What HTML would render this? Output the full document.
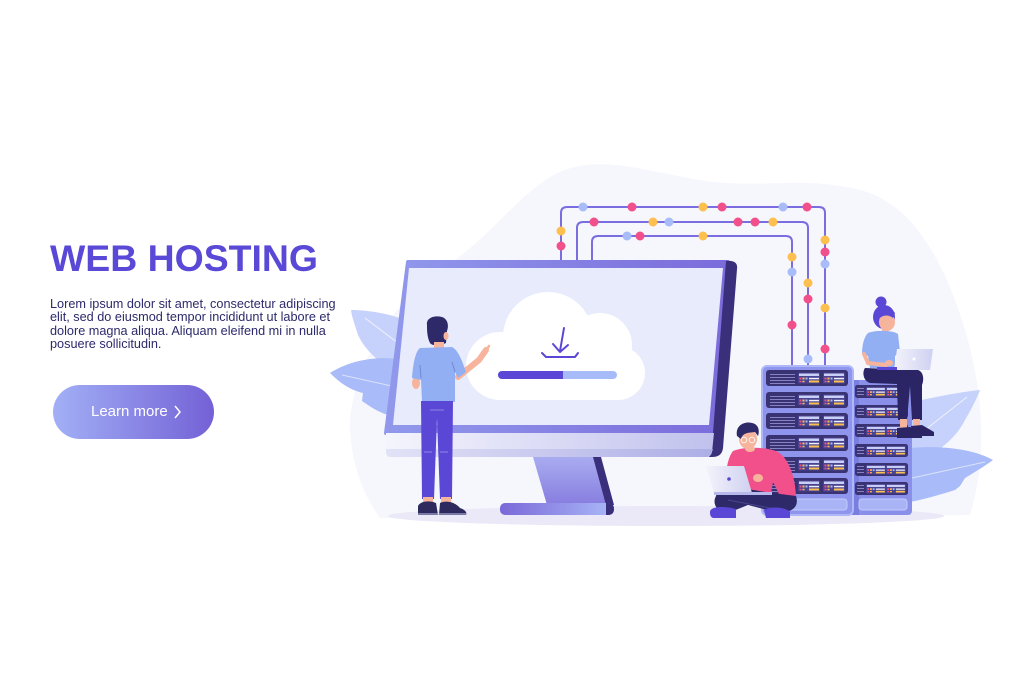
<!DOCTYPE html>
<html><head><meta charset="utf-8">
<style>
html,body{margin:0;padding:0;background:#fff;}
body{width:1024px;height:682px;position:relative;overflow:hidden;font-family:"Liberation Sans",Arial,sans-serif;}
svg{position:absolute;left:0;top:0;}
.title{position:absolute;left:50px;top:240px;font-size:37.4px;line-height:37.4px;font-weight:bold;color:#5a48d6;white-space:nowrap;}
.para{position:absolute;left:50px;top:298px;font-size:12.7px;line-height:13.4px;color:#2c2a6b;white-space:nowrap;}
.btn{position:absolute;left:53px;top:385px;width:161px;height:54px;border-radius:27px;background:linear-gradient(90deg,#a2b0f6,#7361d6);}
.btn span{position:absolute;left:38px;top:19px;font-size:15px;line-height:15px;color:#fff;white-space:nowrap;}
.btn svg{position:absolute;left:120px;top:19px;}
</style></head><body>
<svg width="1024" height="682" viewBox="0 0 1024 682">
<defs>
 <linearGradient id="gFrame" x1="0" x2="1"><stop offset="0" stop-color="#9199ec"/><stop offset="1" stop-color="#7b6bdb"/></linearGradient>
 <linearGradient id="gChin" x1="0" x2="1"><stop offset="0" stop-color="#f5f5fd"/><stop offset="1" stop-color="#c0c1ed"/></linearGradient>
 <linearGradient id="gChin2" x1="0" x2="1"><stop offset="0" stop-color="#e2e2f7"/><stop offset="1" stop-color="#adaee5"/></linearGradient>
 <linearGradient id="gNeck" x1="0" y1="0" x2="0" y2="1"><stop offset="0" stop-color="#a9acf0"/><stop offset="1" stop-color="#877ddf"/></linearGradient>
 <linearGradient id="gBase" x1="0" x2="1"><stop offset="0" stop-color="#7a68d8"/><stop offset="1" stop-color="#a9b8f7"/></linearGradient>
 <linearGradient id="gLap" x1="0" x2="1"><stop offset="0" stop-color="#f3f3fb"/><stop offset="1" stop-color="#cfd1f1"/></linearGradient>
 <g id="pn">
  <rect width="22" height="11" rx="1" fill="#4a4391"/>
  <rect x="1" y="1" width="20" height="2.5" fill="#c9d0f8"/>
  <rect x="1.5" y="5" width="2" height="2" fill="#f2508a"/>
  <rect x="4.5" y="5" width="2" height="2" fill="#fdc04f"/>
  <rect x="7.5" y="5" width="2" height="2" fill="#a7bcf8"/>
  <rect x="11" y="5.3" width="10" height="1.5" fill="#eef0fc"/>
  <rect x="1.5" y="8.3" width="2" height="1.5" fill="#f2508a"/>
  <rect x="4.5" y="8.3" width="2" height="1.5" fill="#fdc04f"/>
  <rect x="11" y="8" width="10" height="2" fill="#fdc04f"/>
 </g>
 <g id="u1">
  <rect width="82" height="16" rx="3" fill="#3a3373"/>
  <path d="M4 4.5H29M4 7.5H29M4 10.5H29M4 13.5H29" stroke="#8583c4" stroke-width="1.1"/>
  <use href="#pn" x="32" y="2.5"/>
  <use href="#pn" x="57" y="2.5"/>
 </g>
 <g id="u2">
  <rect width="53" height="13" rx="2.5" fill="#3a3373"/>
  <path d="M2 3.5H9M2 6.5H9M2 9.5H9" stroke="#8583c4" stroke-width="1"/>
  <use href="#pn" transform="translate(11,2) scale(0.9,0.85)"/>
  <use href="#pn" transform="translate(31,2) scale(0.9,0.85)"/>
 </g>
</defs>

<!-- background blob -->
<path d="M350,430 C348,380 390,300 440,270 C490,240 520,190 560,172 C600,155 640,170 700,180 C760,190 800,175 860,190 C920,205 950,280 965,330 C980,380 990,450 970,515 L380,518 C360,490 352,460 350,430 Z" fill="#f6f6fd"/>

<!-- left leaves -->
<path d="M351,310 C370,310 395,315 404,320 L400,372 C380,365 365,350 358,335 C355,325 352,318 351,310 Z" fill="#c6d2fb"/>
<line x1="365" y1="318" x2="398" y2="343" stroke="#eef2fe" stroke-width="1"/>
<path d="M330,373 C350,360 380,355 402,360 L398,418 C385,415 375,410 368,405 L362,401 L363,393 C350,390 340,383 330,373 Z" fill="#a9bbf8"/>
<line x1="342" y1="375" x2="396" y2="387" stroke="#dbe3fd" stroke-width="1"/>

<!-- right leaves -->
<path d="M980,390 C960,392 930,398 912,402 L910,465 C935,455 955,440 965,420 C972,408 977,398 980,390 Z" fill="#c6d2fb"/>
<line x1="925" y1="430" x2="967" y2="397" stroke="#eef2fe" stroke-width="1"/>
<path d="M993,460 C975,450 945,445 910,448 L910,502 C930,498 945,493 955,490 L960,486 L965,478 C975,472 985,466 993,460 Z" fill="#a9bbf8"/>
<line x1="912" y1="478" x2="985" y2="462" stroke="#dbe3fd" stroke-width="1"/>

<!-- floor -->
<ellipse cx="666" cy="516" rx="278" ry="10" fill="#ebe8f8"/>

<!-- wires -->
<g fill="none" stroke="#7a6de0" stroke-width="2">
 <path d="M561,262 L561,213 Q561,207 567,207 L819,207 Q825,207 825,213 L825,368"/>
 <path d="M577,262 L577,228 Q577,222 583,222 L802,222 Q808,222 808,228 L808,368"/>
 <path d="M592,262 L592,242 Q592,236 598,236 L786,236 Q792,236 792,242 L792,368"/>
</g>
<g>
 <circle cx="583" cy="207" r="4.5" fill="#a7bcf8"/>
 <circle cx="632" cy="207" r="4.5" fill="#f2508a"/>
 <circle cx="703" cy="207" r="4.5" fill="#fdc04f"/>
 <circle cx="722" cy="207" r="4.5" fill="#f2508a"/>
 <circle cx="783" cy="207" r="4.5" fill="#a7bcf8"/>
 <circle cx="807" cy="207" r="4.5" fill="#f2508a"/>
 <circle cx="561" cy="231" r="4.5" fill="#fdc04f"/>
 <circle cx="561" cy="246" r="4.5" fill="#f2508a"/>
 <circle cx="825" cy="240" r="4.5" fill="#fdc04f"/>
 <circle cx="825" cy="252" r="4.5" fill="#f2508a"/>
 <circle cx="825" cy="264" r="4.5" fill="#a7bcf8"/>
 <circle cx="825" cy="308" r="4.5" fill="#fdc04f"/>
 <circle cx="825" cy="349" r="4.5" fill="#f2508a"/>
 <circle cx="594" cy="222" r="4.5" fill="#f2508a"/>
 <circle cx="653" cy="222" r="4.5" fill="#fdc04f"/>
 <circle cx="669" cy="222" r="4.5" fill="#a7bcf8"/>
 <circle cx="738" cy="222" r="4.5" fill="#f2508a"/>
 <circle cx="755" cy="222" r="4.5" fill="#f2508a"/>
 <circle cx="773" cy="222" r="4.5" fill="#fdc04f"/>
 <circle cx="808" cy="283" r="4.5" fill="#fdc04f"/>
 <circle cx="808" cy="299" r="4.5" fill="#f2508a"/>
 <circle cx="808" cy="359" r="4.5" fill="#a7bcf8"/>
 <circle cx="627" cy="236" r="4.5" fill="#a7bcf8"/>
 <circle cx="640" cy="236" r="4.5" fill="#f2508a"/>
 <circle cx="703" cy="236" r="4.5" fill="#fdc04f"/>
 <circle cx="792" cy="257" r="4.5" fill="#fdc04f"/>
 <circle cx="792" cy="272" r="4.5" fill="#a7bcf8"/>
 <circle cx="792" cy="325" r="4.5" fill="#f2508a"/>
</g>

<!-- monitor stand -->
<polygon points="533,457 596,457 610,505 547,505" fill="url(#gNeck)"/>
<polygon points="593,457 601,457 614,505 606,505" fill="#3a2f7a"/>
<rect x="500" y="503" width="113" height="12" rx="5" fill="url(#gBase)"/>
<path d="M606,503 L608,503 Q614,503 614,509 L614,509 Q614,515 608,515 L606,515 Z" fill="#3a2f7a"/>

<!-- monitor -->
<path d="M408,262 L728,262 L712,433 L386,433 Z" fill="url(#gFrame)" stroke="url(#gFrame)" stroke-width="4" stroke-linejoin="round"/>
<path d="M726,261 L731,261 Q738,262 737,269 L723,448 Q722,457 712,457 L709,457 L713,433 Z" fill="#3a2f7a"/>
<polygon points="409,268 723,268 709,425 393,425" fill="#e7ebfc"/>
<path d="M386,433 L714,433 L712,452 Q711,457 706,457 L391,457 Q386,457 386,452 Z" fill="url(#gChin)"/>
<path d="M386,449 L713,449 L712,452 Q711,457 706,457 L391,457 Q386,457 386,452 Z" fill="url(#gChin2)"/>

<!-- cloud -->
<g fill="#ffffff">
 <circle cx="500" cy="366" r="34"/>
 <circle cx="548" cy="337" r="45"/>
 <circle cx="600" cy="345" r="32"/>
 <circle cx="618" cy="373" r="27"/>
 <rect x="500" y="360" width="118" height="40"/>
</g>
<rect x="498" y="371" width="119" height="8" rx="4" fill="#a6bbf8"/>
<path d="M502,371 L563,371 L563,379 L502,379 A4,4 0 0 1 502,371 Z" fill="#5b47d6"/>
<g fill="none" stroke="#5b47d6" stroke-width="2" stroke-linecap="round" stroke-linejoin="round">
 <line x1="564" y1="328" x2="560" y2="351"/>
 <polyline points="553,344 560,352 568,345"/>
 <polyline points="542,353 546,357 575,357 578,353"/>
</g>

<!-- racks -->
<rect x="852" y="380" width="60" height="135" rx="4" fill="#8a8fea"/>
<rect x="852" y="380" width="7" height="135" fill="#7a7ede"/>
<use href="#u2" x="855" y="385"/>
<use href="#u2" x="855" y="405"/>
<use href="#u2" x="855" y="424"/>
<use href="#u2" x="855" y="444"/>
<use href="#u2" x="855" y="463"/>
<use href="#u2" x="855" y="482"/>
<rect x="859" y="499" width="48" height="11" rx="3" fill="#a9b4f6" stroke="#c3cbfa" stroke-width="1"/>

<rect x="762" y="366" width="91" height="149" rx="5" fill="#8f94ec" stroke="#aeb8f8" stroke-width="2"/>
<use href="#u1" x="766" y="370"/>
<use href="#u1" x="766" y="392"/>
<use href="#u1" x="766" y="413"/>
<use href="#u1" x="766" y="435"/>
<use href="#u1" x="766" y="457"/>
<use href="#u1" x="766" y="478"/>
<rect x="769" y="499" width="78" height="11" rx="3" fill="#a9b4f6" stroke="#c3cbfa" stroke-width="1"/>

<!-- sitting man -->
<path d="M733,451 C745,446 768,447 778,452 C788,458 795,475 796,496 L781,498 L773,482 L770,498 L728,498 C724,480 726,460 733,451 Z" fill="#f2508a"/>
<ellipse cx="750" cy="449" rx="5" ry="3" fill="#f7b49c"/>
<ellipse cx="748" cy="439" rx="9" ry="10" fill="#f7b49c"/>
<path d="M737,436 C735,425 745,421 752,423 C758,424 760,430 758,436 L755,432 C749,433 743,432 741,439 Z" fill="#2e2a6a"/>
<circle cx="744" cy="440" r="2.8" fill="none" stroke="#ffffff" stroke-width="0.8"/>
<circle cx="752" cy="440" r="2.8" fill="none" stroke="#ffffff" stroke-width="0.8"/>
<path d="M716,496 C718,486 740,487 765,492 L796,496 C800,508 790,514 775,512 L748,505 L728,513 C716,512 712,503 716,496 Z" fill="#2e2a6a"/>
<path d="M728,500 L780,510" stroke="#4a4590" stroke-width="1"/>
<polygon points="706,466 744,466 752,493 714,493" fill="url(#gLap)"/>
<circle cx="729" cy="479" r="1.8" fill="#5b47d6"/>
<rect x="714" y="492" width="58" height="3" fill="#b7b9ea"/>
<ellipse cx="758" cy="478" rx="5" ry="4" fill="#f7b49c"/>
<path d="M710,512 C710,506 725,506 736,509 L736,518 L713,518 C710,517 710,514 710,512 Z" fill="#5b47d6"/>
<path d="M764,510 C770,506 786,507 790,512 L790,518 L766,518 Z" fill="#5b47d6"/>

<!-- woman -->
<circle cx="881" cy="302" r="5.5" fill="#5b47d6"/>
<ellipse cx="884" cy="317" rx="11" ry="12" fill="#5b47d6"/>
<ellipse cx="887" cy="322" rx="8" ry="9" fill="#f7b49c"/>
<path d="M876,316 C878,308 890,306 895,313 L893,318 C888,314 882,315 878,320 Z" fill="#5b47d6"/>
<rect x="882" y="328" width="6" height="7" fill="#f7b49c"/>
<path d="M868,333 C875,330 893,330 898,334 L900,352 L895,356 L895,368 L870,368 L868,356 L862,354 C862,345 864,337 868,333 Z" fill="#93aff3"/>
<path d="M864,354 L868,363 L886,365" fill="none" stroke="#f7b49c" stroke-width="4" stroke-linecap="round"/>
<path d="M865,368 L918,370 C924,372 924,380 922,385 L922,420 L912,420 L910,386 L907,420 L898,420 L897,384 L870,383 C863,381 862,372 865,368 Z" fill="#2b2565"/>
<polygon points="897,349 933,349 930,370 894,370" fill="url(#gLap)"/>
<circle cx="914" cy="359" r="1.5" fill="#ffffff"/>
<rect x="877" y="367" width="20" height="3" fill="#5b47d6"/>
<ellipse cx="889" cy="363" rx="4" ry="3" fill="#f7b49c"/>
<rect x="900" y="419" width="7" height="9" fill="#f7b49c"/>
<rect x="913" y="419" width="7" height="8" fill="#f7b49c"/>
<path d="M897,428 L910,427 L922,434 L922,438 L897,438 Z" fill="#2b2565"/>
<path d="M911,426 L922,425 L934,432 L934,436 L912,436 Z" fill="#2b2565"/>

<!-- standing man -->
<path d="M427,325 C426,318 434,315 442,317 C448,319 449,326 447,331 L446,343 C440,346 432,346 430,343 C427,337 427,330 427,325 Z" fill="#2e2a6a"/>
<ellipse cx="446" cy="336" rx="2.5" ry="4" fill="#f7b49c"/>
<rect x="434" y="342" width="10" height="8" fill="#f7b49c"/>
<path d="M458,377 L479,360 L486,350" fill="none" stroke="#f7b49c" stroke-width="6" stroke-linecap="round" stroke-linejoin="round"/>
<line x1="485" y1="352" x2="489" y2="346" stroke="#f7b49c" stroke-width="2.5" stroke-linecap="round"/>
<ellipse cx="416" cy="383" rx="4" ry="6" fill="#f7b49c"/>
<path d="M420,348 L452,347 C458,350 462,360 466,372 L458,378 L455,372 L455,402 L422,402 L421,380 L412,378 C413,365 415,352 420,348 Z" fill="#93aff3"/>
<path d="M420,365 L421,378 M452,362 L455,372" stroke="#6f88d8" stroke-width="1"/>
<path d="M421,401 L453,401 L452,499 L440,499 L437,418 L434,499 L422,499 Z" fill="#5b47d6"/>
<path d="M430,410 L444,410 M424,452 L432,452 M440,452 L448,452" stroke="#8f86e6" stroke-width="1"/>
<rect x="423" y="497" width="10" height="6" fill="#f7b49c"/>
<rect x="441" y="497" width="10" height="6" fill="#f7b49c"/>
<path d="M418,515 L418,506 C420,501 430,500 436,503 L438,515 Z" fill="#2e2a5e"/>
<path d="M439,515 L440,503 C446,500 455,502 460,508 C466,510 467,513 466,515 Z" fill="#2e2a5e"/>
<line x1="418" y1="514" x2="466" y2="514" stroke="#c6c7ee" stroke-width="1"/>
</svg>

<div class="title">WEB HOSTING</div>
<div class="para">Lorem ipsum dolor sit amet, consectetur adipiscing<br>elit, sed do eiusmod tempor incididunt ut labore et<br>dolore magna aliqua. Aliquam eleifend mi in nulla<br>posuere sollicitudin.</div>
<div class="btn"><span>Learn more</span><svg width="10" height="16" viewBox="0 0 10 16"><polyline points="2,2 7,8 2,14" fill="none" stroke="#ffffff" stroke-width="1.5"/></svg></div>
</body></html>
